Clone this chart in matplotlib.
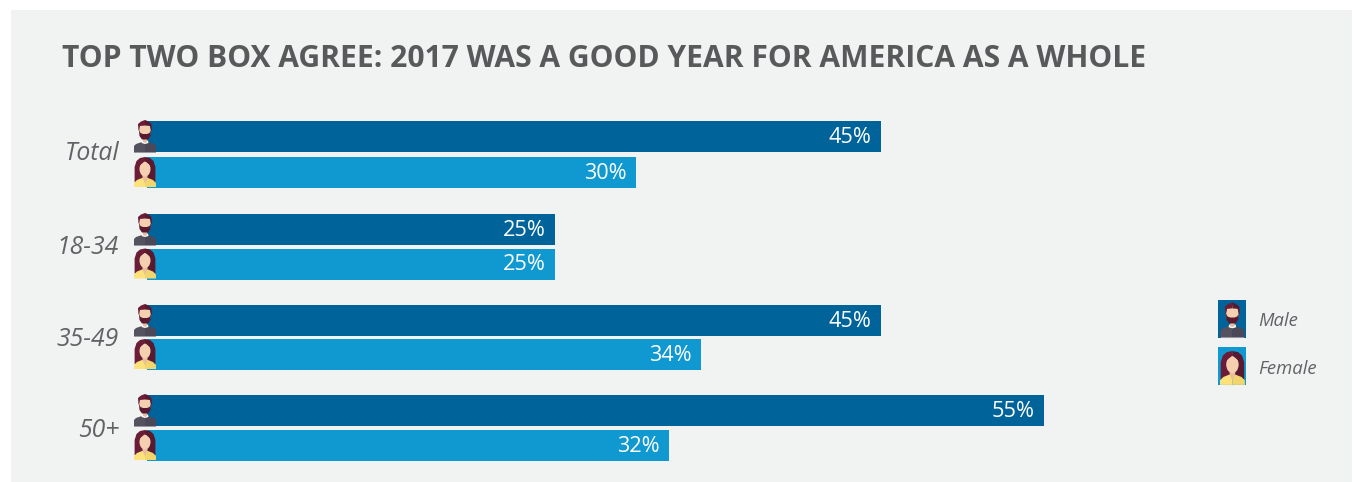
import matplotlib
matplotlib.use("Agg")
import matplotlib.pyplot as plt
from matplotlib.patches import Ellipse, Polygon, Rectangle

title = "TOP TWO BOX AGREE: 2017 WAS A GOOD YEAR FOR AMERICA AS A WHOLE"
groups = ["Total", "18-34", "35-49", "50+"]
male = [45, 25, 45, 55]
female = [30, 25, 34, 32]

# pixel layout of the figure
W, H = 1355, 482
X0 = 147
PX_PER_PCT = 16.3
male_top = [121, 214, 305, 395]
female_top = [157, 248.5, 339, 430]
label_base = [160, 254.5, 346.5, 437]
BAR_H = 31

DARK = "#00649a"
LIGHT = "#0f99d0"
PANEL = "#f1f2f2"
TITLE_COL = "#58595b"
LABEL_COL = "#626366"
HAIR = "#6b1d38"
HAIR2 = "#591a30"
SKIN = "#f5d0b0"
SKIN2 = "#e8bf9e"
SUIT = "#55525f"
SUIT2 = "#4b4857"
YELLOW = "#fde27c"
YELLOW2 = "#f3d56e"


def male_icon(ax, x, y, s, z=5):
    # unit box is 22 wide, 33 tall
    def px(u, v):
        return (x + u * s, y + v * s)

    def poly(pts, c):
        ax.add_patch(Polygon([px(*p) for p in pts], closed=True, fc=c, ec="none", zorder=z))

    poly([(0, 33), (0, 26), (2, 24), (8, 22), (11, 22), (11, 33)], SUIT)
    poly([(11, 33), (11, 22), (14, 22), (20, 24), (22, 26), (22, 33)], SUIT2)
    poly([(0, 32.3), (22, 32.3), (22, 33), (0, 33)], "#9a99a3")
    poly([(8, 20.5), (14, 20.5), (14.5, 23), (11, 24), (7.5, 23)], "#ffffff")
    poly([(9, 17), (13, 17), (13, 22), (11, 23), (9, 22)], SKIN2)
    ax.add_patch(Ellipse(px(11, 10.5), 12 * s, 15 * s, fc=SKIN, ec="none", zorder=z))
    # beard wraps round the jaw
    poly([(5, 10), (6.5, 13), (9, 14), (13, 14), (15.5, 13), (17, 10), (16.5, 16), (14, 19.5), (8, 19.5), (5.5, 16)], HAIR2)
    # quiff
    poly([(4.5, 10.5), (4, 4), (7, 1.5), (11, 0), (11, 5.5), (6, 6), (5.2, 10.5)], HAIR)
    poly([(11, 0), (14, 1.2), (17.5, 4), (18, 10.5), (16.8, 10.5), (16, 6), (11, 5.5)], HAIR2)


def female_icon(ax, x, y, s, z=5):
    # unit box is 22 wide, 30 tall
    def px(u, v):
        return (x + u * s, y + v * s)

    def poly(pts, c):
        ax.add_patch(Polygon([px(*p) for p in pts], closed=True, fc=c, ec="none", zorder=z))

    poly([(0.6, 25), (0.6, 10), (2.5, 4), (6, 1), (11, 0), (11, 25)], HAIR)
    poly([(11, 0), (16, 1), (19.5, 4), (21.4, 10), (21.4, 25), (11, 25)], HAIR2)
    poly([(0, 30), (0, 26), (3, 23), (8, 21), (11, 21), (11, 30)], YELLOW)
    poly([(11, 30), (11, 21), (14, 21), (19, 23), (22, 26), (22, 30)], YELLOW2)
    poly([(8.5, 15), (13.5, 15), (13.5, 21), (11, 26.5), (8.5, 21)], SKIN2)
    ax.add_patch(Ellipse(px(11, 12), 11 * s, 15 * s, fc=SKIN, ec="none", zorder=z))
    # parting across the forehead
    poly([(11, 4), (17, 9), (16.5, 4)], HAIR2)
    poly([(11, 4), (5, 9), (5.5, 4)], HAIR)


fig = plt.figure(figsize=(W / 100, H / 100), dpi=100, facecolor="white")

# full figure axes in pixels for the panel, text and icons
bg = fig.add_axes([0, 0, 1, 1])
bg.set_xlim(0, W)
bg.set_ylim(H, 0)
bg.axis("off")
bg.add_patch(Rectangle((11, 10), 1352 - 11, H - 10, fc=PANEL, ec="none", zorder=0))

# bars sit on a percent axis starting at the icons
ax = fig.add_axes([X0 / W, 0, (W - X0) / W, 1], zorder=2)
ax.set_xlim(0, (W - X0) / PX_PER_PCT)
ax.set_ylim(H, 0)
ax.axis("off")
ax.patch.set_alpha(0)
ax.barh(male_top, male, height=BAR_H, align="edge", color=DARK)
ax.barh(female_top, female, height=BAR_H, align="edge", color=LIGHT)

for vals, tops in [(male, male_top), (female, female_top)]:
    for v, t in zip(vals, tops):
        ax.annotate(f"{v}%", (v, t + 22), xytext=(-6.5, 0), textcoords="offset points",
                    ha="right", va="baseline", color="white", fontsize=15.6, family="Open Sans")

# icons go above the bars
top = fig.add_axes([0, 0, 1, 1], zorder=3)
top.set_xlim(0, W)
top.set_ylim(H, 0)
top.axis("off")
top.patch.set_alpha(0)

for t in male_top:
    male_icon(top, 134, t - 1, 1.0)
for t in female_top:
    female_icon(top, 134, t, 1.0)

for name, base in zip(groups, label_base):
    top.text(119, base, name, ha="right", va="baseline", fontsize=17.8,
             style="italic", color=LABEL_COL, family="Open Sans")

top.text(61.5, 67, title, ha="left", va="baseline", fontsize=21.6, fontweight="bold",
         color=TITLE_COL, family="Open Sans")

# legend
top.add_patch(Rectangle((1218, 300), 28, 38, fc=DARK, ec="none", zorder=4))
top.add_patch(Rectangle((1218, 347), 28, 38, fc=LIGHT, ec="none", zorder=4))
male_icon(top, 1220.5, 302.4, 1.08)
female_icon(top, 1220, 351, 1.13)
top.text(1258, 326, "Male", ha="left", va="baseline", fontsize=13.3, style="italic",
         color=LABEL_COL, family="Open Sans")
top.text(1258, 373.5, "Female", ha="left", va="baseline", fontsize=13.3, style="italic",
         color=LABEL_COL, family="Open Sans")

fig.savefig("out.png", dpi=100)
